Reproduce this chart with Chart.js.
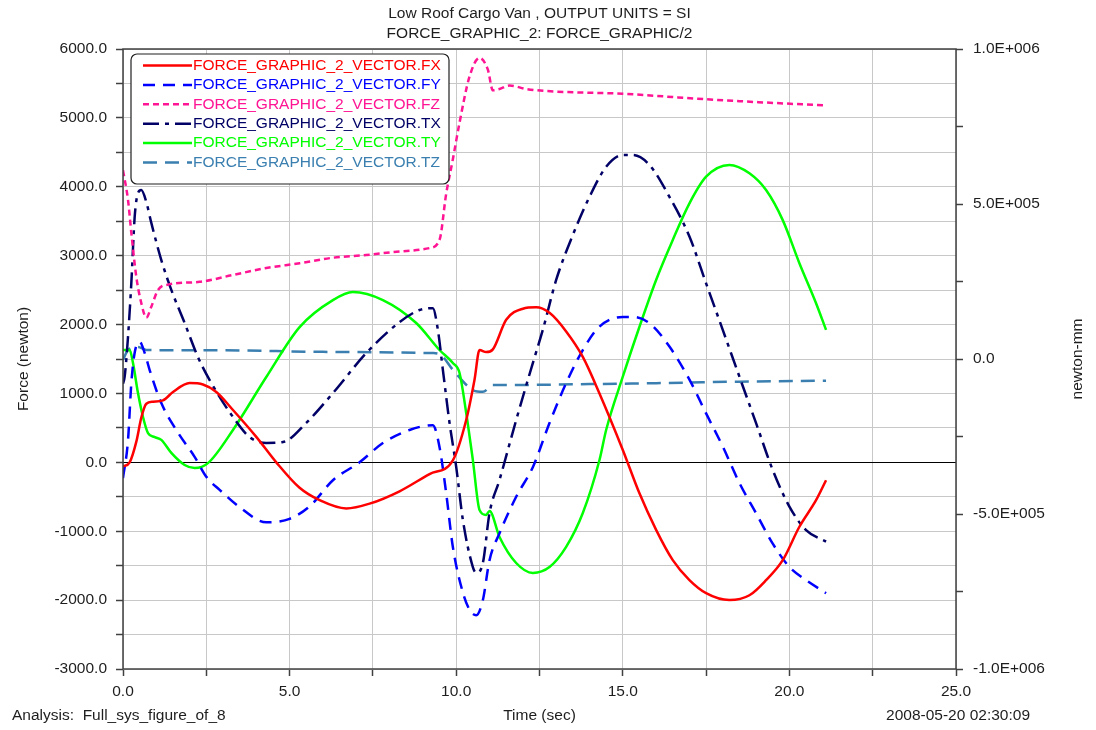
<!DOCTYPE html>
<html>
<head>
<meta charset="utf-8">
<title>FORCE_GRAPHIC_2</title>
<script src="https://cdn.jsdelivr.net/npm/chart.js@4.4.1/dist/chart.umd.min.js"></script>
<style>
    html, body { margin: 0; padding: 0; background: #fff; }
    .caixa { position: relative; width: 1096px; height: 730px; }
</style>
</head>
<body>
<div class="caixa"><canvas class="myChart"></canvas></div>
<script>
// TEMPOS (s) E VALORES, UMA SÉRIE DE CADA VEZ
const tempoFX = [0, 0.2, 0.4, 0.55, 0.7, 0.9, 1.2, 1.5, 2.0, 2.4, 2.8, 3.3, 4.0, 4.6, 5.3, 5.9, 6.7, 7.4, 8.3, 9.2, 9.9, 10.3, 10.55, 10.7, 10.9, 11.1, 11.5, 12.0, 12.4, 12.8, 13.3, 13.8, 14.3, 15.0, 15.5, 16.0, 16.5, 17.0, 17.5, 18.2, 18.8, 19.3, 19.8, 20.3, 20.8, 21.1];
const valoresFX = [-60, 0, 300, 650, 850, 880, 900, 1020, 1150, 1130, 1020, 760, 370, 0, -370, -550, -670, -600, -420, -170, 30, 615, 1200, 1630, 1600, 1640, 2070, 2230, 2250, 2170, 1900, 1530, 1000, 180, -450, -980, -1420, -1710, -1900, -2000, -1930, -1710, -1420, -935, -550, -260];

const tempoFY = [0, 0.15, 0.25, 0.35, 0.5, 0.65, 0.8, 1.15, 1.65, 2.15, 2.5, 2.9, 3.5, 4.3, 5.0, 5.6, 6.3, 7.1, 7.8, 8.6, 9.3, 9.5, 9.7, 9.9, 10.2, 10.4, 10.6, 10.8, 11.0, 11.3, 11.8, 12.3, 12.8, 13.3, 13.8, 14.3, 15.0, 15.3, 15.8, 16.4, 17.0, 17.5, 18.0, 18.5, 19.0, 19.5, 20.0, 20.5, 21.1];
const valoresFY = [-230, 320, 1150, 1590, 1750, 1590, 1340, 860, 430, 80, -210, -400, -650, -870, -820, -640, -260, 0, 280, 470, 540, 220, -450, -1230, -1890, -2140, -2220, -2000, -1420, -1030, -500, -70, 570, 1150, 1630, 1970, 2110, 2110, 2020, 1680, 1200, 710, 230, -300, -740, -1180, -1520, -1710, -1900];

const tempoFZ = [0, 0.15, 0.25, 0.4, 0.55, 0.7, 0.85, 1.05, 1.35, 2.3, 3.3, 4.3, 5.3, 6.3, 7.3, 8.3, 9.2, 9.5, 9.7, 9.9, 10.1, 10.4, 10.7, 10.95, 11.1, 11.3, 11.6, 12.1, 12.7, 15.0, 17.5, 19.0, 21.1];
const valoresFZ = [4240, 3810, 3330, 2690, 2310, 2100, 2260, 2500, 2580, 2620, 2720, 2820, 2890, 2970, 3010, 3060, 3110, 3230, 3900, 4400, 4930, 5600, 5870, 5700, 5400, 5420, 5470, 5420, 5390, 5350, 5270, 5230, 5180];

const tempoTX = [0, 0.05, 0.15, 0.25, 0.35, 0.45, 0.55, 0.7, 0.85, 1.15, 1.45, 1.85, 2.25, 2.6, 3.3, 3.8, 4.3, 4.8, 5.5, 6.3, 7.3, 8.3, 8.9, 9.3, 9.45, 9.6, 9.8, 10.0, 10.2, 10.5, 10.6, 10.8, 11.0, 11.3, 11.8, 12.3, 12.6, 13.0, 13.5, 14.0, 14.5, 15.0, 15.3, 15.8, 16.4, 17.0, 17.5, 18.0, 18.5, 19.0, 19.5, 20.0, 20.5, 21.1];
const valoresTX = [-80000, -57000, 71000, 245000, 458000, 535000, 545000, 506000, 439000, 319000, 223000, 116000, 6000, -68000, -187000, -252000, -271000, -268000, -206000, -110000, 19000, 119000, 158000, 164000, 94000, -35000, -206000, -348000, -519000, -671000, -690000, -658000, -497000, -390000, -197000, -13000, 94000, 255000, 400000, 523000, 620000, 658000, 658000, 626000, 523000, 395000, 244000, 94000, -57000, -207000, -358000, -476000, -552000, -589000];

const tempoTY = [0, 0.2, 0.3, 0.45, 0.6, 0.75, 0.95, 1.15, 1.45, 1.85, 2.15, 2.55, 3.3, 4.3, 5.3, 6.3, 6.9, 7.8, 8.8, 9.5, 9.9, 10.1, 10.3, 10.5, 10.7, 10.9, 11.0, 11.3, 11.8, 12.3, 12.8, 13.3, 13.8, 14.3, 14.5, 15.0, 15.5, 16.0, 16.5, 17.0, 17.5, 18.2, 18.8, 19.3, 19.8, 20.3, 20.8, 21.1];
const valoresTY = [29000, 29000, -13000, -110000, -187000, -239000, -252000, -261000, -303000, -342000, -352000, -336000, -229000, -58000, 103000, 190000, 216000, 190000, 116000, 29000, -13000, -45000, -174000, -326000, -487000, -503000, -490000, -574000, -658000, -690000, -671000, -606000, -497000, -326000, -229000, -57000, 104000, 255000, 384000, 502000, 588000, 626000, 599000, 545000, 448000, 309000, 180000, 94000];

const tempoTZ = [0, 0.15, 0.45, 0.7, 3.0, 6.0, 9.3, 9.5, 9.9, 10.5, 10.8, 11.1, 11.3, 14.0, 16.0, 18.5, 21.1];
const valoresTZ = [-3000, 29000, 39000, 29000, 28000, 23000, 19000, 16000, -35000, -100000, -106000, -84000, -84000, -81000, -78000, -73000, -70000];

// NOMES DAS SÉRIES E TEXTOS
const nomesSeries = ['FORCE_GRAPHIC_2_VECTOR.FX', 'FORCE_GRAPHIC_2_VECTOR.FY', 'FORCE_GRAPHIC_2_VECTOR.FZ', 'FORCE_GRAPHIC_2_VECTOR.TX', 'FORCE_GRAPHIC_2_VECTOR.TY', 'FORCE_GRAPHIC_2_VECTOR.TZ'];
const titulos = ['Low Roof Cargo Van , OUTPUT UNITS = SI', 'FORCE_GRAPHIC_2: FORCE_GRAPHIC/2'];
const rodapeEsquerda = 'Analysis:  Full_sys_figure_of_8';
const rodapeDireita = '2008-05-20 02:30:09';

// CORES E TRAÇOS
const cores = ['#ff0000', '#0000ff', '#ff1493', '#000066', '#00ff00', '#3a7fb0'];
const tracos = [[], [12, 8], [6, 4], [16, 6, 4, 6], [], [14, 8]];
const eixos = ['y', 'y', 'y', 'y1', 'y1', 'y1'];

const fonte = "'Liberation Sans', Arial, sans-serif";
const tamanhoFonte = 15.5;
const corTexto = '#1e1e1e';

// JUNTA TEMPO E VALOR EM PONTOS {x, y}
function juntar(tempos, valores) {
    return tempos.map((t, i) => ({ x: t, y: valores[i] }));
}

const series = [
    juntar(tempoFX, valoresFX),
    juntar(tempoFY, valoresFY),
    juntar(tempoFZ, valoresFZ),
    juntar(tempoTX, valoresTX),
    juntar(tempoTY, valoresTY),
    juntar(tempoTZ, valoresTZ)
];

// FORMATO 1.0E+006 DO EIXO DA DIREITA
function formatoExp(v) {
    if (v === 0) return '0.0';
    const e = Math.floor(Math.log10(Math.abs(v)) + 1e-9);
    const m = v / Math.pow(10, e);
    return m.toFixed(1) + 'E' + (e >= 0 ? '+' : '-') + String(Math.abs(e)).padStart(3, '0');
}

// PLUGIN: MOLDURA, TÍTULOS, RODAPÉ E LEGENDA DENTRO DA ÁREA
const extras = {
    id: 'extras',
    afterDraw(chart) {
        const { ctx, chartArea: a } = chart;
        ctx.save();

        // MOLDURA
        ctx.strokeStyle = '#404040';
        ctx.lineWidth = 1.5;
        ctx.strokeRect(a.left, a.top, a.right - a.left, a.bottom - a.top);

        // TÍTULOS
        ctx.fillStyle = corTexto;
        ctx.font = tamanhoFonte + 'px ' + fonte;
        ctx.textBaseline = 'middle';
        ctx.textAlign = 'center';
        const cx = (a.left + a.right) / 2;
        ctx.fillText(titulos[0], cx, 14);
        ctx.fillText(titulos[1], cx, 34);

        // RODAPÉ
        ctx.textAlign = 'left';
        ctx.fillText(rodapeEsquerda, 12, 716);
        ctx.textAlign = 'right';
        ctx.fillText(rodapeDireita, 1030, 716);

        // TÍTULO DO EIXO DA DIREITA
        ctx.save();
        ctx.translate(1078, (a.top + a.bottom) / 2);
        ctx.rotate(-Math.PI / 2);
        ctx.textAlign = 'center';
        ctx.fillText('newton-mm', 0, 0);
        ctx.restore();

        // LEGENDA
        const bx = a.left + 8, by = a.top + 5, bw = 318, bh = 130;
        ctx.beginPath();
        ctx.roundRect(bx, by, bw, bh, 6);
        ctx.fillStyle = '#ffffff';
        ctx.fill();
        ctx.strokeStyle = '#202020';
        ctx.lineWidth = 1.2;
        ctx.stroke();

        chart.data.datasets.forEach((ds, i) => {
            const yy = a.top + 16.5 + i * 19.4;
            ctx.beginPath();
            ctx.setLineDash(ds.borderDash || []);
            ctx.strokeStyle = ds.borderColor;
            ctx.lineWidth = 2.5;
            ctx.moveTo(a.left + 20, yy);
            ctx.lineTo(a.left + 69, yy);
            ctx.stroke();
            ctx.setLineDash([]);
            ctx.fillStyle = ds.borderColor;
            ctx.textAlign = 'left';
            ctx.fillText(ds.label, a.left + 70, yy);
        });

        ctx.restore();
    }
};

const ctx = document.querySelector('.myChart');

const grafico = new Chart(ctx, {
    type: 'line',
    data: {
        datasets: series.map((pontos, i) => ({
            label: nomesSeries[i],
            data: pontos,
            yAxisID: eixos[i],
            borderColor: cores[i],
            backgroundColor: cores[i],
            borderDash: tracos[i],
            borderWidth: 2.5,
            pointRadius: 0,
            fill: false,
            cubicInterpolationMode: 'monotone'
        }))
    },
    options: {
        responsive: true,
        maintainAspectRatio: false,
        animation: false,
        layout: { padding: { top: 49, left: 0, right: 0, bottom: 0 } },
        plugins: {
            legend: { display: false },
            title: { display: false },
            tooltip: { enabled: false }
        },
        scales: {
            x: {
                type: 'linear',
                min: 0,
                max: 25,
                afterFit: (s) => { s.height = 61; },
                border: { display: false },
                grid: { color: '#c8c8c8', lineWidth: 1, tickLength: 7, tickColor: '#404040', tickWidth: 1.5 },
                ticks: {
                    stepSize: 2.5,
                    color: corTexto,
                    font: { family: fonte, size: tamanhoFonte },
                    padding: 6,
                    maxRotation: 0,
                    autoSkip: false,
                    callback: (v) => (v % 5 === 0 ? v.toFixed(1) : '')
                },
                title: {
                    display: true,
                    text: 'Time (sec)',
                    color: corTexto,
                    font: { family: fonte, size: tamanhoFonte },
                    padding: { top: 0, bottom: 5 }
                }
            },
            y: {
                position: 'left',
                min: -3000,
                max: 6000,
                afterFit: (s) => { s.width = 123; },
                border: { display: false },
                grid: {
                    color: (c) => (c.tick && c.tick.value === 0 ? '#000000' : '#c8c8c8'),
                    lineWidth: 1,
                    tickLength: 7,
                    tickColor: '#404040',
                    tickWidth: 1.5
                },
                ticks: {
                    stepSize: 500,
                    color: corTexto,
                    font: { family: fonte, size: tamanhoFonte },
                    padding: 9,
                    autoSkip: false,
                    callback: (v) => (v % 1000 === 0 ? v.toFixed(1) : '')
                },
                title: {
                    display: true,
                    text: 'Force (newton)',
                    color: corTexto,
                    font: { family: fonte, size: tamanhoFonte },
                    padding: { top: 14, bottom: 0 }
                }
            },
            y1: {
                position: 'right',
                min: -1000000,
                max: 1000000,
                afterFit: (s) => { s.width = 140; },
                border: { display: false },
                grid: { drawOnChartArea: false, tickLength: 7, tickColor: '#404040', tickWidth: 1.5 },
                ticks: {
                    stepSize: 250000,
                    color: corTexto,
                    font: { family: fonte, size: tamanhoFonte },
                    padding: 10,
                    autoSkip: false,
                    callback: (v) => (v % 500000 === 0 ? formatoExp(v) : '')
                }
            }
        }
    },
    plugins: [extras]
});
</script>
</body>
</html>
